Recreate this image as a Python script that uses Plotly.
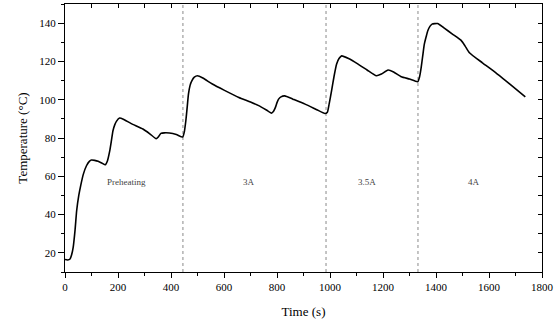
import plotly.graph_objects as go

# ---- data ----
time_s = [0, 10, 19, 25, 31, 38, 44, 52, 59, 69, 81, 92, 100, 112, 125, 140, 152, 160, 169, 175,
          181, 188, 194, 206, 220, 250, 294, 320, 344, 352, 362, 375, 394, 420, 444, 450, 456, 461,
          466, 472, 479, 488, 500, 520, 556, 600, 656, 700, 731, 760, 779, 787, 794, 800, 806, 815,
          829, 860, 906, 950, 981, 990, 997, 1006, 1015, 1025, 1034, 1044, 1070, 1106, 1140, 1175,
          1194, 1219, 1240, 1269, 1300, 1331, 1338, 1344, 1350, 1356, 1363, 1369, 1377, 1385, 1406,
          1430, 1462, 1494, 1510, 1525, 1575, 1625, 1680, 1737]
temperature = [16.5, 16.3, 16.8, 19, 23, 32, 42, 50, 55, 61, 65.5, 67.8, 68.5, 68.3, 67.8, 66.8, 66,
               68, 73.4, 78.5, 83.8, 87, 88.7, 90.4, 89.8, 87.5, 84.7, 82.2, 79.6, 80.5, 82.4, 82.7,
               82.6, 81.8, 80.5, 83, 89, 96, 103, 107.5, 110, 111.8, 112.5, 111.3, 108.2, 105, 101.2,
               98.8, 96.9, 94.6, 93, 94, 96, 98.5, 100.3, 101.5, 102, 100.3, 97.7, 94.8, 92.8, 93.5,
               98, 104.7, 112, 118.6, 121.5, 122.9, 121.5, 118.6, 115.5, 112.5, 113.4, 115.5, 114.5,
               112, 110.8, 109.4, 112, 116.8, 123, 129, 133, 136, 138.3, 139.5, 139.8, 137.5, 134.3,
               131.1, 128, 124.7, 119.3, 114.2, 108, 101.5]

phase_boundaries = [445, 985, 1332]
phase_labels = ["Preheating", "3A", "3.5A", "4A"]
phase_label_x = [231, 696, 1141, 1544]
phase_label_y = [57, 57, 57, 57]

x_range = [0, 1800]
y_range = [10, 150]

serif = "Liberation Serif, Times New Roman, serif"

fig = go.Figure()
fig.add_trace(go.Scatter(x=time_s, y=temperature, mode="lines",
                         line=dict(color="black", width=1.6, shape="spline", smoothing=0.5),
                         showlegend=False, hoverinfo="skip"))
# invisible trace to anchor the mirrored (top/right) axes
fig.add_trace(go.Scatter(x=[x_range[0]], y=[y_range[0]], xaxis="x2", yaxis="y2",
                         mode="markers", marker=dict(opacity=0), showlegend=False, hoverinfo="skip"))

for b in phase_boundaries:
    fig.add_shape(type="line", xref="x", yref="paper", x0=b, x1=b, y0=0, y1=1,
                  line=dict(color="#8a8a8a", width=1, dash="dot"), layer="below")

for t, xx, yy in zip(phase_labels, phase_label_x, phase_label_y):
    fig.add_annotation(x=xx, y=yy, text=t, showarrow=False, xref="x", yref="y",
                       font=dict(family=serif, size=9, color="#444444"))

axis_common = dict(showgrid=False, zeroline=False, linecolor="black", linewidth=1,
                   tickcolor="black", tickwidth=1)

fig.update_layout(
    width=558, height=326,
    margin=dict(l=65, r=14, t=4, b=54),
    paper_bgcolor="white", plot_bgcolor="white",
    font=dict(family=serif, size=11, color="black"),
    xaxis=dict(range=x_range, tick0=0, dtick=200, ticks="outside", ticklen=5,
               minor=dict(dtick=100, ticks="outside", ticklen=3, tickcolor="black"),
               title=dict(text="Time (s)", font=dict(family=serif, size=13), standoff=14),
               tickfont=dict(family=serif, size=11), **axis_common),
    yaxis=dict(range=y_range, tick0=0, dtick=20, ticks="outside", ticklen=6,
               minor=dict(dtick=10, ticks="outside", ticklen=3, tickcolor="black"),
               title=dict(text="Temperature (°C)", font=dict(family=serif, size=13), standoff=8),
               tickfont=dict(family=serif, size=11), **axis_common),
    xaxis2=dict(range=x_range, overlaying="x", side="top", anchor="y2", tick0=0, dtick=100,
                ticks="inside", ticklen=4, showticklabels=False, **axis_common),
    yaxis2=dict(range=y_range, overlaying="y", side="right", anchor="x2", tick0=0, dtick=10,
                ticks="inside", ticklen=4, showticklabels=False, **axis_common),
)

fig.write_html("out.html")
